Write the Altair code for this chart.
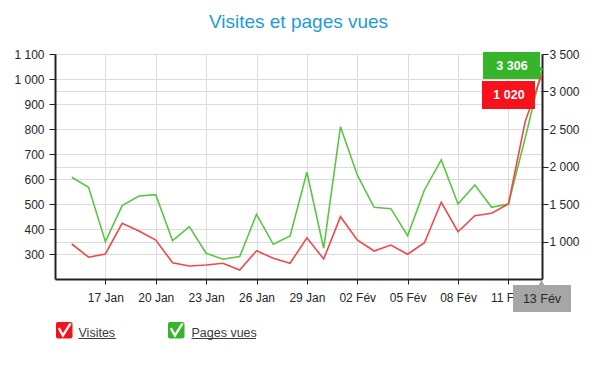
import altair as alt
import pandas as pd

# ---------------- data ----------------
dates = ["15 Jan", "16 Jan", "17 Jan", "18 Jan", "19 Jan", "20 Jan", "21 Jan",
         "22 Jan", "23 Jan", "24 Jan", "25 Jan", "26 Jan", "27 Jan", "28 Jan",
         "29 Jan", "30 Jan", "31 Jan", "02 Fév", "03 Fév", "04 Fév", "05 Fév",
         "06 Fév", "07 Fév", "08 Fév", "09 Fév", "10 Fév", "11 Fév", "12 Fév",
         "13 Fév"]
visites = [340, 287, 300, 423, 392, 356, 265, 252, 256, 263, 236, 313, 283, 263,
           365, 280, 449, 356, 312, 336, 299, 345, 507, 389, 453, 463, 500, 830,
           1020]
pages_vues = [1856, 1723, 998, 1478, 1607, 1624, 1011, 1198, 843, 763, 798, 1363,
              963, 1074, 1923, 910, 2531, 1887, 1456, 1438, 1078, 1687, 2087, 1500,
              1754, 1456, 1500, 2380, 3306]
x_tick_idx = [2, 5, 8, 11, 14, 17, 20, 23, 26]
left_ticks = [300, 400, 500, 600, 700, 800, 900, 1000, 1100]
right_ticks = [1000, 1500, 2000, 2500, 3000, 3500]
title_text = ["Visites et pages vues"]
series_names = ["Visites", "Pages vues"]
line_colors = ["#f04848", "#5cc444"]
box_colors = ["#f7111b", "#36b52a"]

# ---------------- tables ----------------
df = pd.DataFrame({"idx": list(range(len(dates))), "date": dates,
                   "visites": visites, "pages": pages_vues})


def fmt(v):
    return f"{v:,}".replace(",", " ")


last = pd.DataFrame({"vtxt": [fmt(visites[-1])], "ptxt": [fmt(pages_vues[-1])],
                     "date": [dates[-1]]})

W, H = 487, 225
FONT = "Liberation Sans"
GRID = "#dcdcdc"
AXC = "#222222"
LBL = "#262626"

label_expr = "[" + ",".join("'%s'" % d for d in dates) + "][datum.value]"
space_fmt = "replace(format(datum.value, ','), ',', ' ')"

x_enc = alt.X(
    "idx:Q",
    scale=alt.Scale(domain=[-1, len(dates) - 1], nice=False, zero=False),
    axis=alt.Axis(values=x_tick_idx, labelExpr=label_expr, title=None,
                  grid=True, gridColor=GRID, gridWidth=1,
                  domainColor=AXC, domainWidth=2, tickColor=AXC, tickSize=5,
                  labelFont=FONT, labelFontSize=12, labelColor=LBL,
                  labelPadding=8),
)

green = alt.Chart(df).mark_line(color=line_colors[1], strokeWidth=1.6).encode(
    x=x_enc,
    y=alt.Y("pages:Q", scale=alt.Scale(domain=[500, 3500], nice=False, zero=False),
            axis=alt.Axis(orient="right", values=right_ticks, labelExpr=space_fmt,
                          title=None, grid=True, gridColor=GRID, gridWidth=1,
                          domainColor=AXC, domainWidth=2, tickColor=AXC,
                          tickSize=6, labelFont=FONT, labelFontSize=12,
                          labelColor=LBL, labelPadding=1)),
)

red = alt.Chart(df).mark_line(color=line_colors[0], strokeWidth=1.6).encode(
    x=x_enc,
    y=alt.Y("visites:Q", scale=alt.Scale(domain=[200, 1100], nice=False, zero=False),
            axis=alt.Axis(orient="left", values=left_ticks, labelExpr=space_fmt,
                          title=None, grid=True, gridColor=GRID, gridWidth=1,
                          domainColor=AXC, domainWidth=2, tickColor=AXC,
                          tickSize=6, labelFont=FONT, labelFontSize=12,
                          labelColor=LBL, labelPadding=5)),
)

# ---------------- title ----------------
title = alt.Chart(pd.DataFrame({"t": title_text})).mark_text(
    font=FONT, fontSize=19, color="#1f9ad6", align="center",
    baseline="alphabetic").encode(text="t:N", x=alt.value(W / 2), y=alt.value(-26))

# ---------------- end-point tooltips ----------------
g_box = alt.Chart(last).mark_rect(color=box_colors[1]).encode(
    x=alt.value(428), x2=alt.value(485), y=alt.value(-2), y2=alt.value(25))
g_arrow = alt.Chart(last).mark_point(shape="triangle-right", filled=True,
                                     color=box_colors[1], size=40, opacity=1).encode(
    x=alt.value(486), y=alt.value(15))
g_txt = alt.Chart(last).mark_text(font=FONT, fontSize=12.5, fontWeight="bold",
                                  color="white", align="center",
                                  baseline="middle").encode(
    text="ptxt:N", x=alt.value(457), y=alt.value(11.5))
r_box = alt.Chart(last).mark_rect(color=box_colors[0]).encode(
    x=alt.value(427), x2=alt.value(480), y=alt.value(27), y2=alt.value(55))
r_txt = alt.Chart(last).mark_text(font=FONT, fontSize=12.5, fontWeight="bold",
                                  color="white", align="center",
                                  baseline="middle").encode(
    text="vtxt:N", x=alt.value(454), y=alt.value(41))

d_box = alt.Chart(last).mark_rect(color="#a6a6a6").encode(
    x=alt.value(458), x2=alt.value(516), y=alt.value(231), y2=alt.value(258))
d_arrow = alt.Chart(last).mark_point(shape="triangle-up", filled=True,
                                     color="#a6a6a6", size=45, opacity=1).encode(
    x=alt.value(486.5), y=alt.value(229))
d_txt = alt.Chart(last).mark_text(font=FONT, fontSize=12.5, color="#2a2a2a",
                                  align="center", baseline="middle").encode(
    text="date:N", x=alt.value(487), y=alt.value(245))

# ---------------- legend ----------------
CHECK = "M-0.7,-0.3 L-0.2,0.62 L0.76,-0.9"


def legend_item(k, bx, tx, tw):
    d = pd.DataFrame({"name": [series_names[k]]})
    box = alt.Chart(d).mark_rect(color=box_colors[k], cornerRadius=2).encode(
        x=alt.value(bx), x2=alt.value(bx + 16.5), y=alt.value(268), y2=alt.value(284.5))
    chk = alt.Chart(d).mark_point(shape=CHECK, filled=False, stroke="white",
                                  strokeWidth=2.3, size=256, opacity=1).encode(
        x=alt.value(bx + 8.5), y=alt.value(276.5))
    txt = alt.Chart(d).mark_text(font=FONT, fontSize=12.5, color="#3a3a3a",
                                 align="left", baseline="alphabetic").encode(
        text="name:N", x=alt.value(tx), y=alt.value(282.5))
    ul = alt.Chart(d).mark_rule(color="#3a3a3a", strokeWidth=1).encode(
        x=alt.value(tx), x2=alt.value(tx + tw), y=alt.value(284.5))
    return [box, chk, txt, ul]


legend_layers = legend_item(0, 1, 23.5, 37.5) + legend_item(1, 113, 136.5, 64.5)

chart = alt.layer(
    green, red, title, g_box, g_arrow, g_txt, r_box, r_txt,
    d_box, d_arrow, d_txt, *legend_layers
).resolve_scale(y="independent").properties(
    width=W, height=H,
    autosize=alt.AutoSizeParams(type="none"),
    padding={"left": 47, "top": 46, "right": 50, "bottom": 80},
    background="white",
).configure_view(stroke=None)

chart.save("out.html", embed_options={"renderer": "svg", "actions": False})
